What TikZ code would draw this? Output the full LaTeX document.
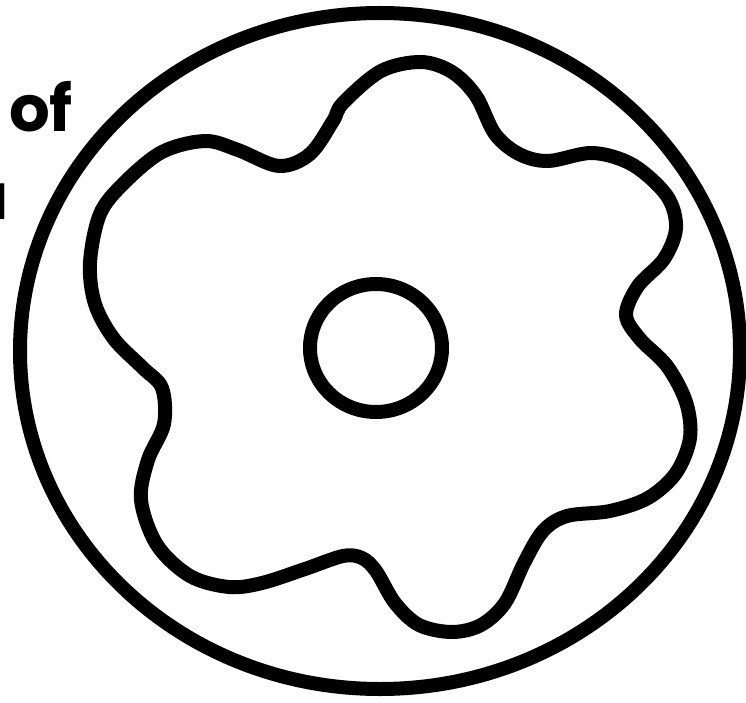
\documentclass[tikz,border=0pt]{standalone}
\usepackage{fontspec}
\setmainfont{Poppins}
\begin{document}
\begin{tikzpicture}[x=1pt,y=-1pt,line width=14pt]
        \useasboundingbox (0,0) rectangle (746,703);
        \node[anchor=base east,font=\bfseries\fontsize{64}{68}\selectfont,inner sep=0pt] (of) at (80,132) {of};
        \node[anchor=base east,font=\bfseries\fontsize{64}{68}\selectfont,inner sep=0pt] (u) at (16,220) {u};
        \draw (380,351) ellipse (360 and 338);
        \draw (376,348) ellipse (66 and 64);
        \draw plot[smooth cycle,tension=0.55] coordinates {(205,141) (238,150) (279,166) (310,154) (333,121) (343,103) (381,71) (421,62) (452,72) (476,96) (495,134) (519,154) (548,161) (593,153) (633,165) (667,196) (676,228) (664,259) (638,286) (626,315) (640,339) (667,366) (686,402) (690,438) (676,473) (648,498) (610,511) (567,516) (543,531) (524,563) (505,603) (481,625) (452,632) (419,625) (395,603) (376,571) (362,558) (343,556) (305,569) (262,583) (229,587) (190,576) (157,545) (141,500) (148,460) (164,424) (162,388) (143,368) (114,339) (95,304) (90,263) (100,214) (124,183) (162,152)};
    \end{tikzpicture}
\end{document}
